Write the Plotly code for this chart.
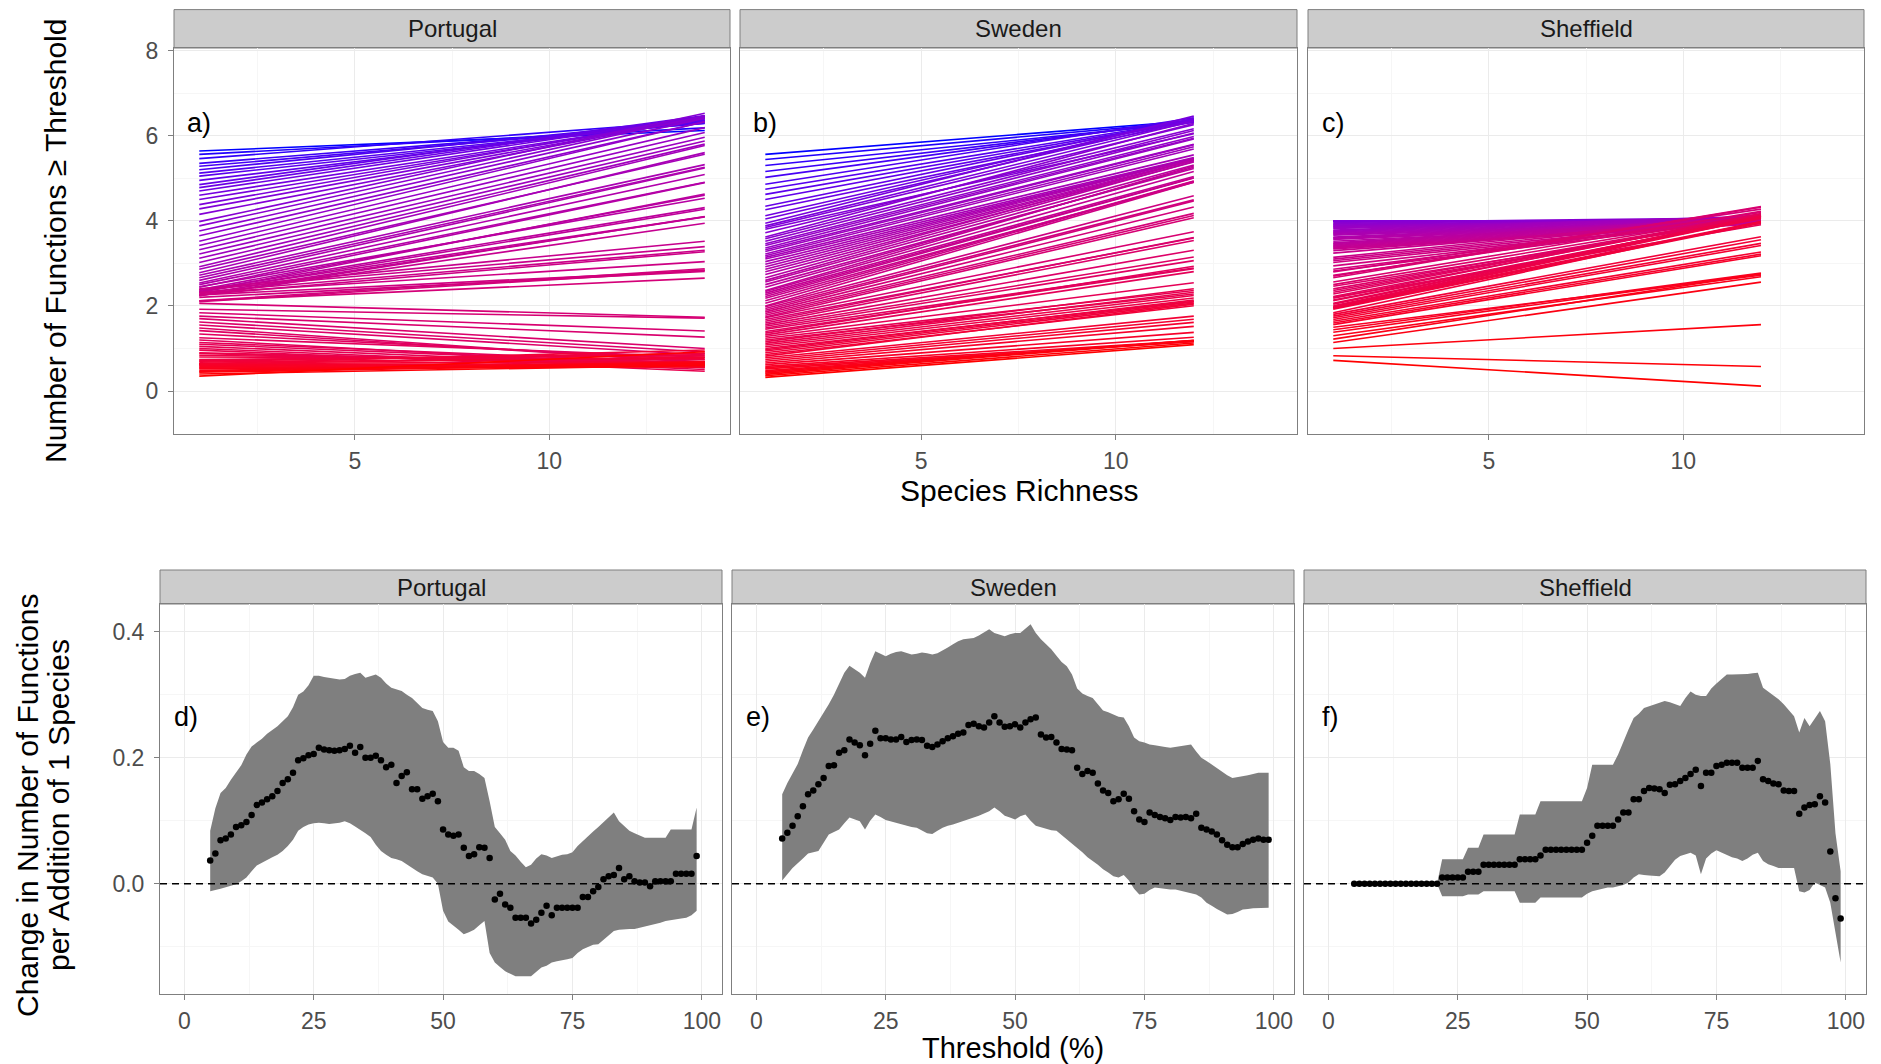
import plotly.graph_objects as go

# ---------------- data ----------------
thresholds = list(range(5, 100))  # percent of maximum, 5..99
sites = ["Portugal", "Sweden", "Sheffield"]
richness_min = {"Portugal": 1, "Sweden": 1, "Sheffield": 1}
richness_max = {"Portugal": 14, "Sweden": 12, "Sheffield": 12}

# slope estimate (change in number of functions per added species), t = 5..99
portugal_est = [
    .037, .048, .069, .072, .078, .090, .093, .098, .109, .125,
    .129, .134, .139, .147, .160, .166, .176, .196, .199, .204,
    .206, .216, .213, .212, .211, .212, .214, .219, .208, .217,
    .200, .200, .203, .196, .185, .189, .160, .171, .177, .150,
    .150, .135, .139, .143, .131, .086, .078, .076, .078, .057,
    .044, .047, .058, .057, .041, -.025, -.016, -.033, -.038, -.054,
    -.054, -.054, -.063, -.057, -.046, -.035, -.050, -.038, -.038, -.038,
    -.038, -.038, -.021, -.021, -.012, -.005, .007, .012, .014, .025,
    .007, .012, .004, .002, .002, -.004, .004, .004, .004, .004,
    .016, .016, .016, .016, .044]
portugal_upper = [
    .084, .120, .144, .152, .165, .176, .188, .205, .218, .224,
    .230, .238, .244, .250, .258, .266, .280, .300, .305, .315,
    .330, .330, .328, .327, .326, .324, .325, .330, .333, .335,
    .327, .330, .332, .327, .318, .311, .308, .306, .300, .295,
    .287, .279, .276, .274, .258, .225, .216, .216, .211, .185,
    .179, .179, .174, .168, .131, .090, .080, .070, .052, .045,
    .035, .026, .030, .040, .047, .045, .041, .044, .046, .047,
    .050, .060, .068, .075, .083, .090, .098, .105, .113, .099,
    .092, .084, .080, .076, .073, .073, .073, .073, .073, .086,
    .086, .086, .086, .086, .121]
portugal_lower = [
    -.012, -.010, -.008, -.006, -.003, -.001, .004, .010, .020, .029,
    .034, .038, .042, .046, .052, .060, .070, .084, .090, .094,
    .096, .097, .096, .095, .096, .097, .099, .096, .091, .086,
    .080, .074, .062, .052, .046, .041, .039, .036, .031, .025,
    .020, .015, .012, .010, .000, -.043, -.060, -.067, -.073, -.080,
    -.077, -.073, -.066, -.059, -.110, -.125, -.132, -.139, -.143, -.147,
    -.147, -.147, -.147, -.140, -.133, -.130, -.125, -.123, -.121, -.120,
    -.118, -.110, -.104, -.100, -.097, -.096, -.090, -.082, -.075, -.073,
    -.072, -.072, -.072, -.070, -.068, -.067, -.064, -.062, -.059, -.057,
    -.056, -.055, -.054, -.050, -.043]

sweden_est = [
    .072, .081, .092, .107, .123, .142, .148, .158, .168, .187,
    .188, .208, .212, .229, .224, .220, .204, .222, .243, .231,
    .231, .229, .229, .233, .225, .228, .229, .228, .219, .217,
    .221, .226, .231, .234, .238, .240, .252, .254, .250, .248,
    .256, .266, .256, .249, .250, .253, .248, .256, .261, .264,
    .237, .232, .233, .224, .214, .213, .212, .184, .174, .179,
    .176, .159, .148, .144, .131, .134, .143, .135, .115, .102,
    .098, .113, .109, .106, .104, .101, .106, .105, .106, .104,
    .111, .089, .086, .083, .078, .069, .062, .058, .058, .063,
    .067, .070, .072, .070, .070]
sweden_upper = [
    .142, .160, .175, .190, .212, .232, .245, .258, .272, .285,
    .300, .318, .335, .346, .340, .335, .327, .350, .369, .365,
    .361, .365, .368, .369, .366, .364, .365, .367, .366, .364,
    .366, .370, .375, .380, .385, .388, .389, .390, .394, .399,
    .404, .398, .396, .393, .396, .398, .398, .405, .412, .398,
    .388, .380, .372, .362, .352, .345, .332, .310, .302, .298,
    .295, .285, .275, .272, .268, .265, .264, .250, .232, .226,
    .224, .221, .220, .218, .217, .216, .217, .219, .220, .221,
    .210, .200, .195, .189, .184, .178, .172, .168, .169, .171,
    .172, .174, .176, .176, .176]
sweden_lower = [
    .005, .015, .025, .033, .040, .048, .050, .052, .065, .078,
    .082, .086, .096, .105, .102, .099, .086, .100, .110, .106,
    .101, .099, .097, .094, .092, .090, .089, .085, .080, .079,
    .084, .089, .092, .094, .096, .099, .102, .105, .108, .111,
    .115, .121, .115, .108, .105, .102, .107, .110, .100, .092,
    .089, .087, .085, .084, .078, .070, .063, .057, .050, .042,
    .036, .030, .023, .018, .012, .010, .014, .005, -.008, -.017,
    -.016, -.010, -.006, -.007, -.008, -.009, -.009, -.011, -.013, -.015,
    -.017, -.022, -.030, -.035, -.040, -.045, -.049, -.048, -.045, -.041,
    -.040, -.039, -.038, -.038, -.038]

sheffield_est = [
    0, 0, 0, 0, 0, 0, 0, 0, 0, 0,
    0, 0, 0, 0, 0, 0, 0, .010, .010, .010,
    .010, .010, .019, .019, .019, .030, .030, .030, .030, .030,
    .030, .030, .039, .039, .039, .039, .045, .054, .054, .054,
    .054, .054, .054, .054, .054, .065, .076, .092, .092, .092,
    .092, .102, .113, .113, .134, .134, .147, .152, .151, .150,
    .144, .157, .158, .163, .168, .174, .181, .155, .176, .176,
    .187, .189, .192, .192, .192, .184, .184, .184, .195, .166,
    .163, .159, .158, .148, .147, .147, .111, .121, .125, .126,
    .139, .129, .051, -.023, -.055]
sheffield_upper = [
    0, 0, 0, 0, 0, 0, 0, 0, 0, 0,
    0, 0, 0, 0, 0, 0, 0, .039, .039, .039,
    .039, .039, .057, .057, .057, .078, .078, .078, .078, .078,
    .078, .078, .110, .110, .110, .110, .131, .131, .131, .131,
    .131, .131, .131, .131, .131, .152, .189, .189, .189, .189,
    .189, .205, .226, .245, .263, .270, .279, .282, .285, .288,
    .290, .288, .285, .282, .295, .305, .300, .298, .298, .310,
    .318, .325, .332, .332, .332, .332, .333, .334, .335, .311,
    .305, .300, .293, .285, .275, .266, .240, .263, .250, .262,
    .274, .258, .190, .080, .020]
sheffield_lower = [
    0, 0, 0, 0, 0, 0, 0, 0, 0, 0,
    0, 0, 0, 0, 0, 0, 0, -.020, -.020, -.020,
    -.020, -.020, -.017, -.017, -.017, -.012, -.012, -.012, -.012, -.012,
    -.012, -.012, -.030, -.030, -.030, -.030, -.022, -.022, -.022, -.022,
    -.022, -.022, -.022, -.022, -.022, -.016, -.012, -.010, -.008, -.006,
    -.006, -.004, -.002, .002, .010, .015, .014, .013, .012, .012,
    .018, .028, .038, .044, .046, .049, .045, .015, .040, .048,
    .053, .050, .046, .042, .040, .036, .040, .046, .049, .036,
    .031, .028, .025, .025, .025, .025, -.012, -.014, -.010, .002,
    -.002, -.006, -.030, -.080, -.125]

# fitted number of functions >= threshold at richness = 1, t = 5..99
portugal_start = [
    5.64, 5.56, 5.46, 5.35, 5.28, 5.20, 5.12, 5.05, 4.95, 4.85,
    4.78, 4.70, 4.60, 4.50, 4.38, 4.28, 4.15, 3.98, 3.88, 3.76,
    3.65, 3.52, 3.42, 3.32, 3.22, 3.12, 3.02, 2.92, 2.86, 2.78,
    2.72, 2.66, 2.60, 2.54, 2.50, 2.44, 2.45, 2.38, 2.33, 2.36,
    2.32, 2.34, 2.28, 2.24, 2.24, 2.40, 2.38, 2.32, 2.26, 2.30,
    2.26, 2.20, 2.12, 2.10, 2.12, 2.06, 1.92, 1.84, 1.76, 1.70,
    1.62, 1.55, 1.48, 1.42, 1.34, 1.25, 1.20, 1.14, 1.10, 1.05,
    1.00, 0.96, 0.90, 0.88, 0.84, 0.80, 0.74, 0.72, 0.70, 0.64,
    0.68, 0.64, 0.64, 0.62, 0.60, 0.62, 0.58, 0.56, 0.54, 0.52,
    0.48, 0.46, 0.44, 0.40, 0.35]
sweden_start = [
    5.56, 5.44, 5.30, 5.16, 5.02, 4.86, 4.74, 4.62, 4.50, 4.34,
    4.26, 4.12, 4.04, 3.94, 3.88, 3.84, 3.80, 3.72, 3.62, 3.58,
    3.52, 3.46, 3.42, 3.36, 3.32, 3.28, 3.22, 3.18, 3.14, 3.10,
    3.04, 2.98, 2.92, 2.86, 2.80, 2.74, 2.66, 2.60, 2.56, 2.50,
    2.44, 2.36, 2.34, 2.30, 2.26, 2.22, 2.18, 2.12, 2.06, 2.00,
    1.98, 1.94, 1.90, 1.86, 1.82, 1.78, 1.74, 1.72, 1.68, 1.64,
    1.60, 1.56, 1.52, 1.48, 1.45, 1.40, 1.36, 1.32, 1.28, 1.24,
    1.20, 1.16, 1.12, 1.08, 1.04, 1.00, 0.97, 0.94, 0.90, 0.86,
    0.82, 0.78, 0.74, 0.70, 0.66, 0.62, 0.58, 0.55, 0.52, 0.48,
    0.45, 0.42, 0.39, 0.36, 0.32]
sheffield_start = [
    4.00, 4.00, 4.00, 4.00, 4.00, 4.00, 4.00, 4.00, 4.00, 4.00,
    4.00, 4.00, 4.00, 4.00, 4.00, 4.00, 4.00, 3.96, 3.94, 3.92,
    3.90, 3.88, 3.86, 3.84, 3.82, 3.78, 3.76, 3.74, 3.72, 3.70,
    3.68, 3.66, 3.62, 3.60, 3.58, 3.56, 3.52, 3.48, 3.46, 3.44,
    3.42, 3.40, 3.38, 3.36, 3.34, 3.30, 3.24, 3.14, 3.10, 3.06,
    3.02, 2.94, 2.86, 2.82, 2.80, 2.72, 2.70, 2.66, 2.56, 2.50,
    2.46, 2.40, 2.36, 2.32, 2.28, 2.22, 2.18, 2.20, 2.14, 2.12,
    2.06, 2.04, 2.00, 1.98, 1.96, 1.96, 1.94, 1.92, 1.84, 1.80,
    1.76, 1.72, 1.68, 1.64, 1.60, 1.56, 1.50, 1.44, 1.38, 1.30,
    1.22, 1.14, 1.00, 0.83, 0.72]

est = {"Portugal": portugal_est, "Sweden": sweden_est, "Sheffield": sheffield_est}
upper = {"Portugal": portugal_upper, "Sweden": sweden_upper, "Sheffield": sheffield_upper}
lower = {"Portugal": portugal_lower, "Sweden": sweden_lower, "Sheffield": sheffield_lower}
start = {"Portugal": portugal_start, "Sweden": sweden_start, "Sheffield": sheffield_start}
top_labels = ["a)", "b)", "c)"]
bottom_labels = ["d)", "e)", "f)"]

# ---------------- colour scale (blue -> red, interpolated in Lab) ----------------
XN, YN, ZN = 0.95047, 1.0, 1.08883


def _lin(c):
    c = c / 255.0
    return c / 12.92 if c <= 0.04045 else ((c + 0.055) / 1.055) ** 2.4


def _gam(c):
    c = max(0.0, min(1.0, c))
    return 12.92 * c if c <= 0.0031308 else 1.055 * c ** (1 / 2.4) - 0.055


def rgb2lab(r, g, b):
    R, G, B = _lin(r), _lin(g), _lin(b)
    X = 0.4124 * R + 0.3576 * G + 0.1805 * B
    Y = 0.2126 * R + 0.7152 * G + 0.0722 * B
    Z = 0.0193 * R + 0.1192 * G + 0.9505 * B

    def f(t):
        return t ** (1 / 3) if t > 216 / 24389 else (24389 / 27 * t + 16) / 116
    fx, fy, fz = f(X / XN), f(Y / YN), f(Z / ZN)
    return 116 * fy - 16, 500 * (fx - fy), 200 * (fy - fz)


def lab2rgb(L, a, b):
    fy = (L + 16) / 116
    fx = fy + a / 500
    fz = fy - b / 200

    def finv(t):
        return t ** 3 if t ** 3 > 216 / 24389 else (116 * t - 16) / (24389 / 27)
    X, Y, Z = XN * finv(fx), YN * finv(fy), ZN * finv(fz)
    R = 3.2406 * X - 1.5372 * Y - 0.4986 * Z
    G = -0.9689 * X + 1.8758 * Y + 0.0415 * Z
    B = 0.0557 * X - 0.2040 * Y + 1.0570 * Z
    return tuple(int(round(255 * _gam(v))) for v in (R, G, B))


LOW = rgb2lab(0, 0, 255)
HIGH = rgb2lab(255, 0, 0)
tmin, tmax = min(thresholds), max(thresholds)


def colour(t):
    f = (t - tmin) / (tmax - tmin)
    lab = [LOW[i] + f * (HIGH[i] - LOW[i]) for i in range(3)]
    r, g, b = lab2rgb(*lab)
    return f"rgb({r},{g},{b})"


# ---------------- layout geometry (screen pixels; body margin removed) ----------------
W, H = 1881, 1064


def px(X):
    return X / W


def py(Y):
    return 1 - Y / H


top_x = [(174, 730), (740, 1297), (1308, 1864)]
bot_x = [(160, 722), (732, 1294), (1304, 1866)]
top_y = (48, 434)
top_strip = (9.6, 48)
bot_y = (604, 994)
bot_strip = (570, 604)

FONT = "Liberation Sans, Arial, Helvetica, sans-serif"
GRID = "#EBEBEB"
MINOR = "#F6F6F6"
BORDER = "#7F7F7F"
TICKTXT = "#4D4D4D"

fig = go.Figure()

# top panels: fitted lines
for i, s in enumerate(sites):
    xa = f"x{i + 1}"
    ya = f"y{i + 1}"
    x0, x1 = richness_min[s], richness_max[s]
    for t, s0, b in zip(thresholds, start[s], est[s]):
        fig.add_trace(go.Scatter(
            x=[x0, x1], y=[s0, s0 + b * (x1 - x0)], mode="lines",
            line=dict(color=colour(t), width=1.6), xaxis=xa, yaxis=ya,
            showlegend=False, hoverinfo="skip"))

# bottom panels: ribbon + points
for i, s in enumerate(sites):
    xa = f"x{i + 4}"
    ya = f"y{i + 4}"
    fig.add_trace(go.Scatter(
        x=thresholds + thresholds[::-1], y=upper[s] + lower[s][::-1],
        fill="toself", fillcolor="#7F7F7F", line=dict(width=0),
        mode="lines", xaxis=xa, yaxis=ya, showlegend=False, hoverinfo="skip"))
    fig.add_trace(go.Scatter(
        x=thresholds, y=est[s], mode="markers",
        marker=dict(color="black", size=6.5), xaxis=xa, yaxis=ya,
        showlegend=False))

layout = dict(
    width=W, height=H, margin=dict(l=0, r=0, t=0, b=0, pad=0, autoexpand=False),
    paper_bgcolor="white", plot_bgcolor="white",
    font=dict(family=FONT, color="black"), showlegend=False,
)


def axis_common():
    return dict(showline=True, mirror=True, linecolor=BORDER, linewidth=1,
                showgrid=True, gridcolor=GRID, gridwidth=1, zeroline=False,
                automargin=False,
                tickfont=dict(size=23, color=TICKTXT, family=FONT),
                tickcolor=BORDER, ticklen=5, tickwidth=1)


for i in range(3):
    # top x
    ax = axis_common()
    ax.update(domain=[px(top_x[i][0]), px(top_x[i][1])], range=[0.35, 14.65],
              tickvals=[5, 10], ticks="outside", anchor=f"y{i + 1}",
              ticklabelstandoff=1,
              minor=dict(tickvals=[2.5, 7.5, 12.5], showgrid=True, gridcolor=MINOR, ticks=""))
    layout[f"xaxis{i + 1}"] = ax
    # top y
    ay = axis_common()
    ay.update(domain=[py(top_y[1]), py(top_y[0])], range=[-1.01, 8.06],
              tickvals=[0, 2, 4, 6, 8], anchor=f"x{i + 1}",
              minor=dict(tickvals=[-1, 1, 3, 5, 7], showgrid=True, gridcolor=MINOR, ticks=""))
    if i == 0:
        ay.update(ticks="outside", showticklabels=True, ticklabelstandoff=5)
    else:
        ay.update(ticks="", showticklabels=False)
    layout[f"yaxis{i + 1}"] = ay
    # bottom x
    bx = axis_common()
    bx.update(domain=[px(bot_x[i][0]), px(bot_x[i][1])], range=[-4.7, 103.9],
              tickvals=[0, 25, 50, 75, 100], ticks="outside", anchor=f"y{i + 4}",
              ticklabelstandoff=1,
              minor=dict(tickvals=[12.5, 37.5, 62.5, 87.5], showgrid=True, gridcolor=MINOR, ticks=""))
    layout[f"xaxis{i + 4}"] = bx
    # bottom y
    by = axis_common()
    by.update(domain=[py(bot_y[1]), py(bot_y[0])], range=[-0.175, 0.444],
              tickvals=[0, 0.2, 0.4], ticktext=["0.0", "0.2", "0.4"], anchor=f"x{i + 4}",
              minor=dict(tickvals=[-0.1, 0.1, 0.3], showgrid=True, gridcolor=MINOR, ticks=""))
    if i == 0:
        by.update(ticks="outside", showticklabels=True, ticklabelstandoff=5)
    else:
        by.update(ticks="", showticklabels=False)
    layout[f"yaxis{i + 4}"] = by

fig.update_layout(**layout)

shapes = []
annotations = []
for i, s in enumerate(sites):
    for (xs, strip) in ((top_x[i], top_strip), (bot_x[i], bot_strip)):
        shapes.append(dict(type="rect", xref="paper", yref="paper",
                           x0=px(xs[0]), x1=px(xs[1]), y0=py(strip[1]), y1=py(strip[0]),
                           fillcolor="#CCCCCC", line=dict(color=BORDER, width=1), layer="below"))
        annotations.append(dict(text=s, xref="paper", yref="paper",
                                x=px((xs[0] + xs[1]) / 2), y=py((strip[0] + strip[1]) / 2),
                                showarrow=False, xanchor="center", yanchor="middle",
                                font=dict(size=24, color="#1A1A1A", family=FONT)))
    # zero reference line
    shapes.append(dict(type="line", xref=f"x{i + 4} domain", yref=f"y{i + 4}",
                       x0=0, x1=1, y0=0, y1=0,
                       line=dict(color="black", width=1.4, dash="7px,5px"), layer="above"))
    # panel letters
    annotations.append(dict(text=top_labels[i], xref=f"x{i + 1}", yref=f"y{i + 1}",
                            x=1.0, y=6.3, showarrow=False, xanchor="center", yanchor="middle",
                            font=dict(size=27, color="black", family=FONT)))
    annotations.append(dict(text=bottom_labels[i], xref=f"x{i + 4}", yref=f"y{i + 4}",
                            x=0.4, y=0.265, showarrow=False, xanchor="center", yanchor="middle",
                            font=dict(size=27, color="black", family=FONT)))

# axis titles
annotations.append(dict(text="Species Richness", xref="paper", yref="paper",
                        x=px(1019), y=py(490), showarrow=False, xanchor="center", yanchor="middle",
                        font=dict(size=30, color="black", family=FONT)))
annotations.append(dict(text="Threshold (%)", xref="paper", yref="paper",
                        x=px(1013), y=py(1048), showarrow=False, xanchor="center", yanchor="middle",
                        font=dict(size=29, color="black", family=FONT)))
annotations.append(dict(text="Number of Functions \u2265 Threshold", xref="paper", yref="paper",
                        x=px(56), y=py(241), showarrow=False, textangle=-90,
                        xanchor="center", yanchor="middle",
                        font=dict(size=30, color="black", family=FONT)))
annotations.append(dict(text="Change in Number of Functions",
                        xref="paper", yref="paper", x=px(27), y=py(805), showarrow=False,
                        textangle=-90, xanchor="center", yanchor="middle",
                        font=dict(size=30, color="black", family=FONT)))
annotations.append(dict(text="per Addition of 1 Species",
                        xref="paper", yref="paper", x=px(58), y=py(805), showarrow=False,
                        textangle=-90, xanchor="center", yanchor="middle",
                        font=dict(size=30, color="black", family=FONT)))

fig.update_layout(shapes=shapes, annotations=annotations)

fig.write_html("out.html",
               config={"displayModeBar": False},
               post_script="document.body.style.margin='0';document.body.style.overflow='hidden';")
